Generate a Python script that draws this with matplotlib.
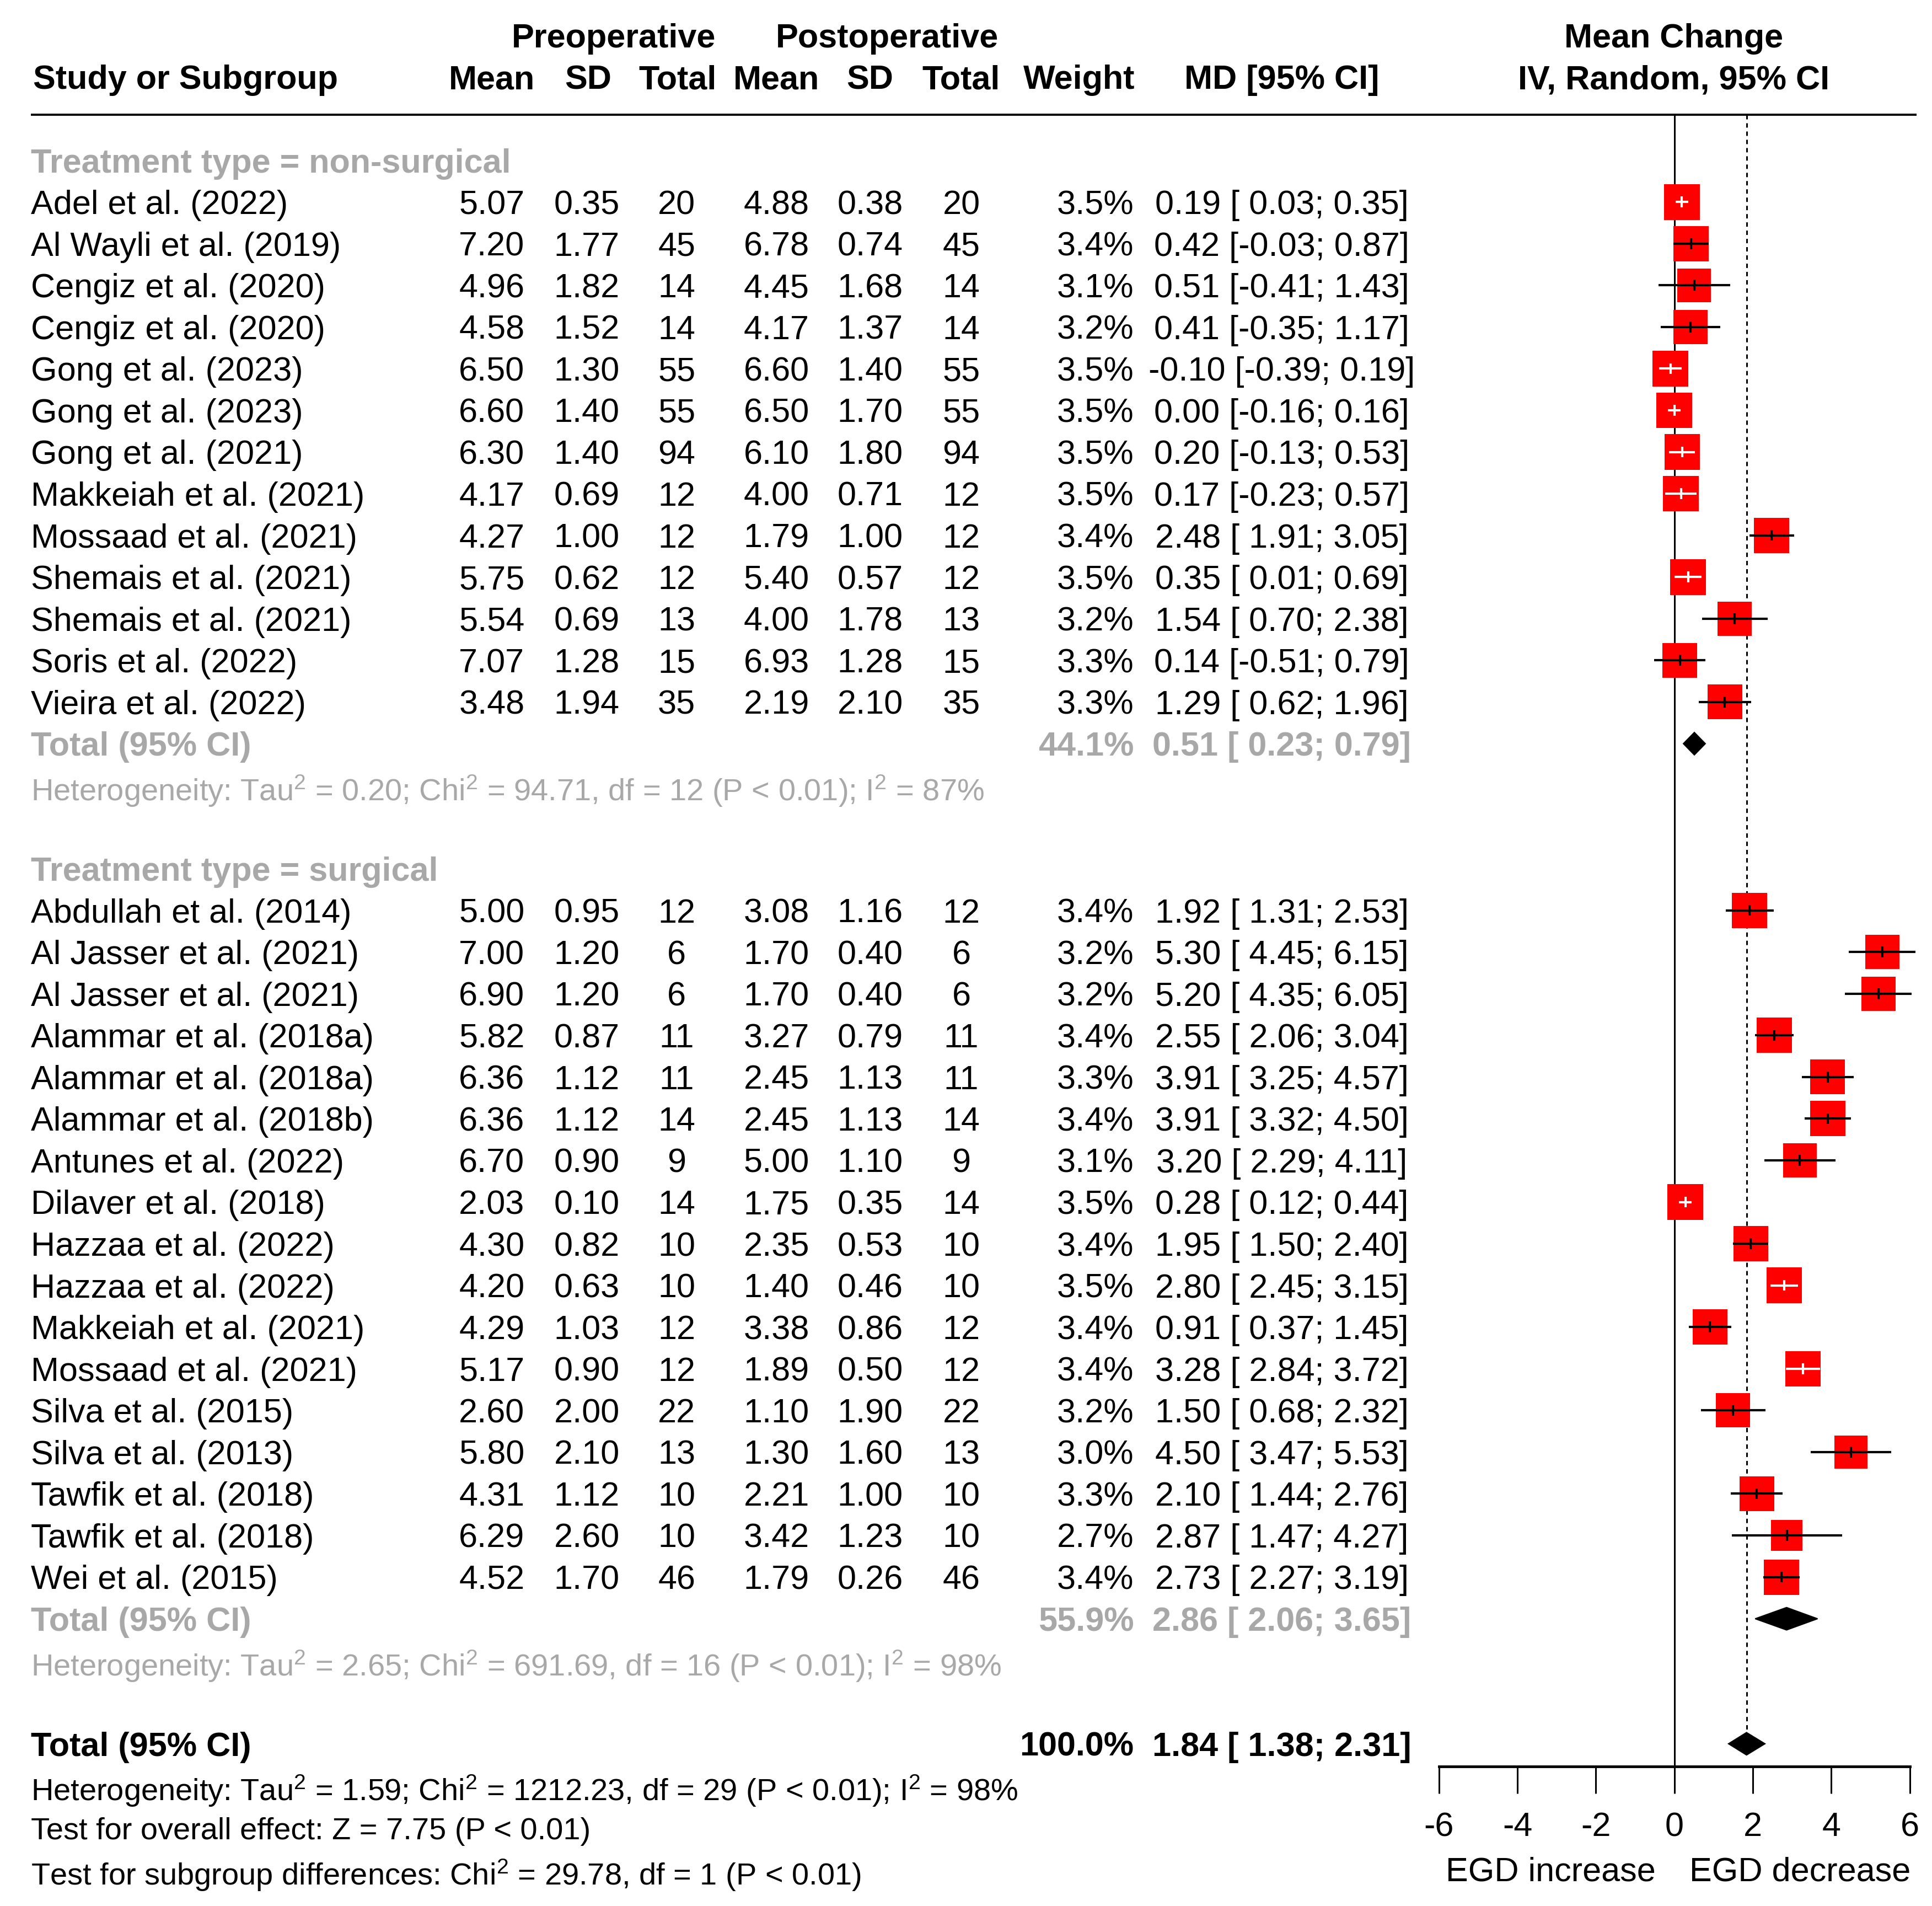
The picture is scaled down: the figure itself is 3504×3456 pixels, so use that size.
import numpy as np
import matplotlib
matplotlib.use("Agg")
import matplotlib.pyplot as plt
from matplotlib.patches import Rectangle, Polygon

# --- data -------------------------------------------------------------
ns_study = ["Adel et al. (2022)", "Al Wayli et al. (2019)", "Cengiz et al. (2020)",
            "Cengiz et al. (2020)", "Gong et al. (2023)", "Gong et al. (2023)",
            "Gong et al. (2021)", "Makkeiah et al. (2021)", "Mossaad et al. (2021)",
            "Shemais et al. (2021)", "Shemais et al. (2021)", "Soris et al. (2022)",
            "Vieira et al. (2022)"]
ns_pre_mean = [5.07, 7.20, 4.96, 4.58, 6.50, 6.60, 6.30, 4.17, 4.27, 5.75, 5.54, 7.07, 3.48]
ns_pre_sd = [0.35, 1.77, 1.82, 1.52, 1.30, 1.40, 1.40, 0.69, 1.00, 0.62, 0.69, 1.28, 1.94]
ns_pre_n = [20, 45, 14, 14, 55, 55, 94, 12, 12, 12, 13, 15, 35]
ns_post_mean = [4.88, 6.78, 4.45, 4.17, 6.60, 6.50, 6.10, 4.00, 1.79, 5.40, 4.00, 6.93, 2.19]
ns_post_sd = [0.38, 0.74, 1.68, 1.37, 1.40, 1.70, 1.80, 0.71, 1.00, 0.57, 1.78, 1.28, 2.10]
ns_post_n = [20, 45, 14, 14, 55, 55, 94, 12, 12, 12, 13, 15, 35]
ns_weight = [3.5, 3.4, 3.1, 3.2, 3.5, 3.5, 3.5, 3.5, 3.4, 3.5, 3.2, 3.3, 3.3]
ns_md = [0.19, 0.42, 0.51, 0.41, -0.10, 0.00, 0.20, 0.17, 2.48, 0.35, 1.54, 0.14, 1.29]
ns_lo = [0.03, -0.03, -0.41, -0.35, -0.39, -0.16, -0.13, -0.23, 1.91, 0.01, 0.70, -0.51, 0.62]
ns_hi = [0.35, 0.87, 1.43, 1.17, 0.19, 0.16, 0.53, 0.57, 3.05, 0.69, 2.38, 0.79, 1.96]
ns_total = (44.1, 0.51, 0.23, 0.79)
ns_het = "Heterogeneity: Tau$^2$ = 0.20; Chi$^2$ = 94.71, df = 12 (P < 0.01); I$^2$ = 87%"

s_study = ["Abdullah et al. (2014)", "Al Jasser et al. (2021)", "Al Jasser et al. (2021)",
           "Alammar et al. (2018a)", "Alammar et al. (2018a)", "Alammar et al. (2018b)",
           "Antunes et al. (2022)", "Dilaver et al. (2018)", "Hazzaa et al. (2022)",
           "Hazzaa et al. (2022)", "Makkeiah et al. (2021)", "Mossaad et al. (2021)",
           "Silva et al. (2015)", "Silva et al. (2013)", "Tawfik et al. (2018)",
           "Tawfik et al. (2018)", "Wei et al. (2015)"]
s_pre_mean = [5.00, 7.00, 6.90, 5.82, 6.36, 6.36, 6.70, 2.03, 4.30, 4.20, 4.29, 5.17, 2.60, 5.80, 4.31, 6.29, 4.52]
s_pre_sd = [0.95, 1.20, 1.20, 0.87, 1.12, 1.12, 0.90, 0.10, 0.82, 0.63, 1.03, 0.90, 2.00, 2.10, 1.12, 2.60, 1.70]
s_pre_n = [12, 6, 6, 11, 11, 14, 9, 14, 10, 10, 12, 12, 22, 13, 10, 10, 46]
s_post_mean = [3.08, 1.70, 1.70, 3.27, 2.45, 2.45, 5.00, 1.75, 2.35, 1.40, 3.38, 1.89, 1.10, 1.30, 2.21, 3.42, 1.79]
s_post_sd = [1.16, 0.40, 0.40, 0.79, 1.13, 1.13, 1.10, 0.35, 0.53, 0.46, 0.86, 0.50, 1.90, 1.60, 1.00, 1.23, 0.26]
s_post_n = [12, 6, 6, 11, 11, 14, 9, 14, 10, 10, 12, 12, 22, 13, 10, 10, 46]
s_weight = [3.4, 3.2, 3.2, 3.4, 3.3, 3.4, 3.1, 3.5, 3.4, 3.5, 3.4, 3.4, 3.2, 3.0, 3.3, 2.7, 3.4]
s_md = [1.92, 5.30, 5.20, 2.55, 3.91, 3.91, 3.20, 0.28, 1.95, 2.80, 0.91, 3.28, 1.50, 4.50, 2.10, 2.87, 2.73]
s_lo = [1.31, 4.45, 4.35, 2.06, 3.25, 3.32, 2.29, 0.12, 1.50, 2.45, 0.37, 2.84, 0.68, 3.47, 1.44, 1.47, 2.27]
s_hi = [2.53, 6.15, 6.05, 3.04, 4.57, 4.50, 4.11, 0.44, 2.40, 3.15, 1.45, 3.72, 2.32, 5.53, 2.76, 4.27, 3.19]
s_total = (55.9, 2.86, 2.06, 3.65)
s_het = "Heterogeneity: Tau$^2$ = 2.65; Chi$^2$ = 691.69, df = 16 (P < 0.01); I$^2$ = 98%"

all_total = (100.0, 1.84, 1.38, 2.31)
all_het = "Heterogeneity: Tau$^2$ = 1.59; Chi$^2$ = 1212.23, df = 29 (P < 0.01); I$^2$ = 98%"
overall_test = "Test for overall effect: Z = 7.75 (P < 0.01)"
subgroup_test = "Test for subgroup differences: Chi$^2$ = 29.78, df = 1 (P < 0.01)"

xticks = [-6, -4, -2, 0, 2, 4, 6]
label_left = "EGD increase"
label_right = "EGD decrease"

# --- layout ----------------------------------------------------------
plt.rcParams['font.family'] = ['Liberation Sans', 'DejaVu Sans']
plt.rcParams['mathtext.fontset'] = 'custom'
plt.rcParams['mathtext.rm'] = 'Liberation Sans'
plt.rcParams['mathtext.it'] = 'Liberation Sans:italic'
plt.rcParams['mathtext.bf'] = 'Liberation Sans:bold'

FS = 44
FS_HET = FS * 11 / 12
GRAY = '#A8A8A8'
W, H = 1568.0, 1546.0          # reference layout units (px)
Y0, DY = 130.0, 33.8           # first row centre, row step
ROW_TOP = -Y0 / DY
ROW_BOT = (H - Y0) / DY
X_LO, X_HI = 1167.5, 1549.5    # forest x-axis span
PX_X = (X_HI - X_LO) / 12.0
BASE = 0.29                    # baseline offset from row centre
CI_LW = 3.0

fig = plt.figure(figsize=(35.05, 34.56), dpi=100)
tax = fig.add_axes([0, 0, 1, 1])
tax.set_xlim(0, W)
tax.set_ylim(ROW_BOT, ROW_TOP)
tax.axis('off')

fax = fig.add_axes([X_LO / W, 0, (X_HI - X_LO) / W, 1])
fax.set_xlim(-6, 6)
fax.set_ylim(ROW_BOT, ROW_TOP)
fax.patch.set_alpha(0)


def txt(x, row, s, ha='left', color='black', bold=False, dy=BASE, fs=FS):
    tax.text(x, row + dy, s, ha=ha, va='baseline', fontsize=fs, color=color,
             fontweight='bold' if bold else 'normal')


# header
txt(498, -3, "Preoperative", ha='center', bold=True)
txt(720, -3, "Postoperative", ha='center', bold=True)
txt(1358, -3, "Mean Change", ha='center', bold=True)
txt(27, -2, "Study or Subgroup", bold=True)
for x, s in [(399, "Mean"), (477, "SD"), (550, "Total"),
             (630, "Mean"), (706, "SD"), (780, "Total")]:
    txt(x, -2, s, ha='center', bold=True)
txt(921, -2, "Weight", ha='right', bold=True)
txt(1040, -2, "MD [95% CI]", ha='center', bold=True)
txt(1358, -2, "IV, Random, 95% CI", ha='center', bold=True)
tax.hlines(-1.095, 25, 1555, color='black', lw=2.8)


def md_str(m, lo, hi):
    return f"{m:.2f} [{lo:5.2f}; {hi:.2f}]"


def diamond(r, total):
    _, m, lo, hi = total
    hh = 0.27
    fax.add_patch(Polygon([(lo, r), (m, r - hh), (hi, r), (m, r + hh)], closed=True,
                          facecolor='black', edgecolor='black', lw=1.5, zorder=3))


def group(start, title, study, pm, psd, pn, qm, qsd, qn, wt, md, lo, hi, total, het):
    txt(25, start, title, color=GRAY, bold=True)
    for i in range(len(study)):
        r = start + 1 + i
        txt(25, r, study[i])
        txt(399, r, f"{pm[i]:.2f}", ha='center')
        txt(476, r, f"{psd[i]:.2f}", ha='center')
        txt(549, r, str(pn[i]), ha='center')
        txt(630, r, f"{qm[i]:.2f}", ha='center')
        txt(706, r, f"{qsd[i]:.2f}", ha='center')
        txt(780, r, str(qn[i]), ha='center')
        txt(920, r, f"{wt[i]:.1f}%", ha='right')
        txt(1040, r, md_str(md[i], lo[i], hi[i]), ha='center')
        # square + CI
        side = 29.0 * np.sqrt(wt[i] / 3.5)
        w = side / PX_X
        h = side / DY
        fax.add_patch(Rectangle((md[i] - w / 2, r - h / 2), w, h, facecolor='#FF0000',
                                edgecolor='none', zorder=3, clip_on=False))
        inside = lo[i] >= md[i] - w / 2 and hi[i] <= md[i] + w / 2
        c = 'white' if inside else 'black'
        fax.plot([lo[i], hi[i]], [r, r], color=c, lw=CI_LW, zorder=4, clip_on=False,
                 solid_capstyle='butt')
        fax.plot([md[i], md[i]], [r - 0.13, r + 0.13], color=c, lw=CI_LW, zorder=4,
                 clip_on=False, solid_capstyle='butt')
    r = start + 1 + len(study)
    txt(25, r, "Total (95% CI)", color=GRAY, bold=True)
    txt(920, r, f"{total[0]:.1f}%", ha='right', color=GRAY, bold=True)
    txt(1040, r, md_str(total[1], total[2], total[3]), ha='center', color=GRAY, bold=True)
    diamond(r, total)
    txt(25, r + 1, het, color=GRAY, dy=BASE + 0.08, fs=FS_HET)


group(0, "Treatment type = non-surgical", ns_study, ns_pre_mean, ns_pre_sd, ns_pre_n,
      ns_post_mean, ns_post_sd, ns_post_n, ns_weight, ns_md, ns_lo, ns_hi, ns_total, ns_het)
group(17, "Treatment type = surgical", s_study, s_pre_mean, s_pre_sd, s_pre_n,
      s_post_mean, s_post_sd, s_post_n, s_weight, s_md, s_lo, s_hi, s_total, s_het)

# overall
txt(25, 38, "Total (95% CI)", bold=True)
txt(920, 38, f"{all_total[0]:.1f}%", ha='right', bold=True)
txt(1040, 38, md_str(all_total[1], all_total[2], all_total[3]), ha='center', bold=True)
diamond(38, all_total)
txt(25, 39, all_het, dy=BASE + 0.08, fs=FS_HET)
txt(25, 40, overall_test, fs=FS_HET)
txt(25, 41, subgroup_test, dy=BASE + 0.1, fs=FS_HET)

# reference lines
AXIS_ROW = (1433 - Y0) / DY
fax.vlines(0, -1.095, AXIS_ROW, color='black', lw=2.2, zorder=2)
fax.vlines(all_total[1], -1.095, 38, color='black', lw=2.2, zorder=2,
           linestyles=(0, (2.6, 2.3)))

# x axis
for sp in ['left', 'right', 'top']:
    fax.spines[sp].set_visible(False)
fax.spines['bottom'].set_position(('data', AXIS_ROW))
fax.spines['bottom'].set_linewidth(3.5)
fax.set_yticks([])
fax.set_xticks(xticks)
fax.set_xticklabels([str(t) for t in xticks])
fax.tick_params(axis='x', direction='out', length=35, width=2.2, pad=24, labelsize=FS)
fax.text(-3.15, 41 + BASE, label_left, ha='center', va='baseline', fontsize=FS)
fax.text(3.2, 41 + BASE, label_right, ha='center', va='baseline', fontsize=FS)

fig.savefig("out.png", dpi=100)
